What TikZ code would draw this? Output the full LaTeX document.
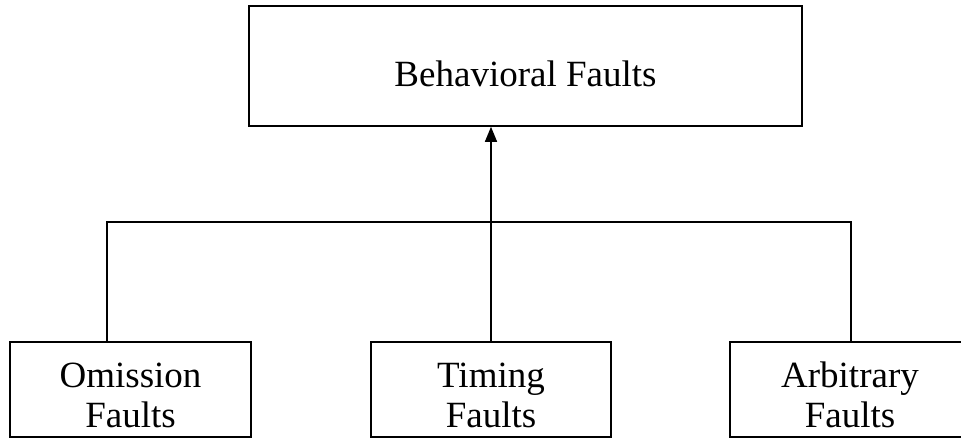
\documentclass[tikz,border=0pt]{standalone}
\usepackage{fontspec}
\setmainfont{Liberation Serif}
\usetikzlibrary{arrows.meta}
\begin{document}
\begin{tikzpicture}[x=1pt,y=-1pt,
  faultbox/.style={draw, line width=1.6pt, inner sep=0pt, minimum height=95pt},
  caption/.style={anchor=base, inner sep=0pt, font=\fontsize{37}{40}\selectfont},
  link/.style={line width=1.4pt}]
  \useasboundingbox (0,0) rectangle (961,438);

  % parent category
  \node[draw, line width=1.6pt, inner sep=0pt, minimum width=553pt, minimum height=120pt]
    (bf) at (525.5,66) {};
  \node[caption] (bft) at (525.5,87) {Behavioral Faults};

  % sub-categories
  \node[faultbox, minimum width=241pt] (om) at (130.5,389.5) {};
  \node[caption] (om1) at (130.5,387) {Omission};
  \node[caption] (om2) at (130.5,427) {Faults};

  \node[faultbox, minimum width=240pt] (tm) at (491,389.5) {};
  \node[caption] (tm1) at (491,387) {Timing};
  \node[caption] (tm2) at (491,427) {Faults};

  \node[faultbox, minimum width=240pt] (ar) at (850,389.5) {};
  \node[caption] (ar1) at (850,387) {Arbitrary};
  \node[caption] (ar2) at (850,427) {Faults};

  % joining bus
  \coordinate (jl) at (107,222);
  \coordinate (jr) at (851,222);
  \draw[link] (om.north -| jl) -- (jl) -- (jr) -- (ar.north -| jr);
  \draw[link, -{Triangle[length=15pt,width=12pt]}] (tm.north) -- (tm.north |- bf.south);
\end{tikzpicture}
\end{document}
